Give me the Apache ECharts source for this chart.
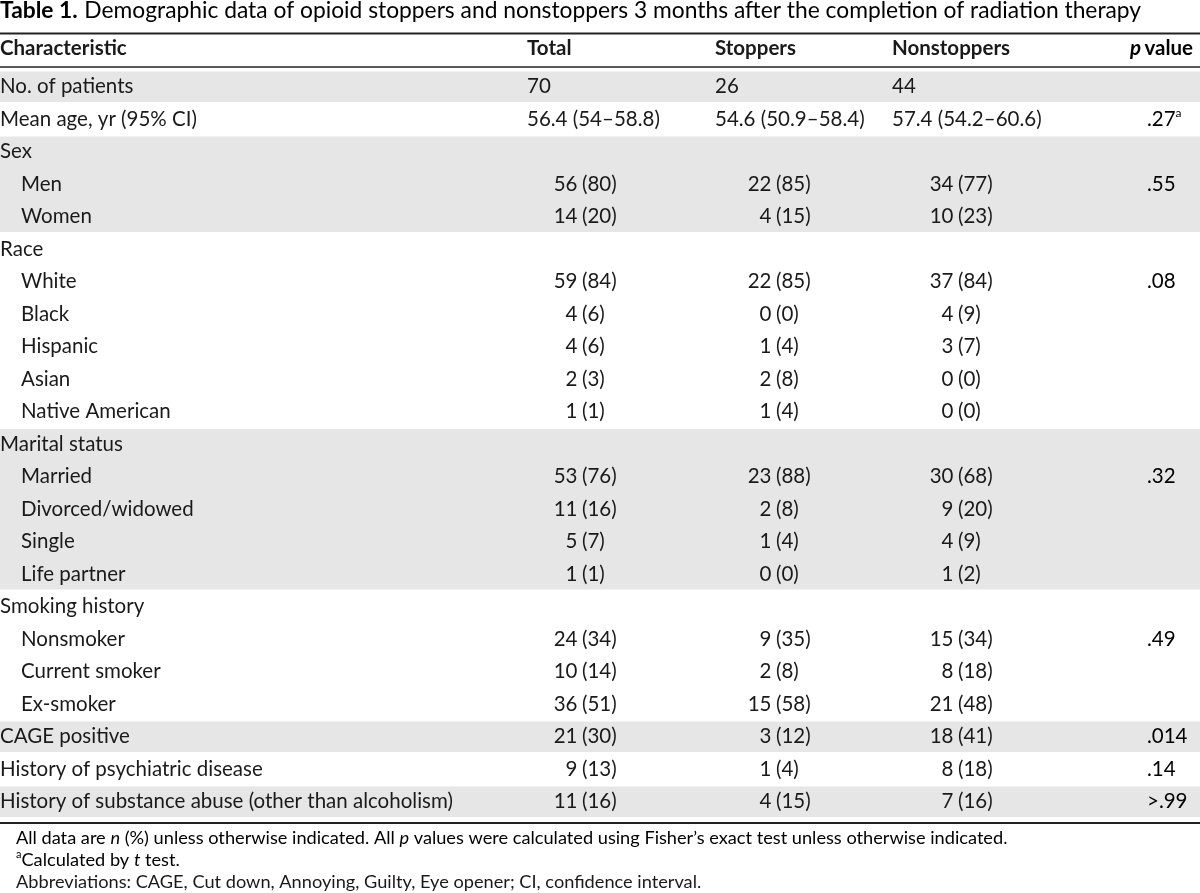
<!DOCTYPE html>
<html><head><meta charset="utf-8">
<script src="https://cdn.jsdelivr.net/npm/echarts@6/dist/echarts.min.js"></script>
<style>html,body{margin:0;padding:0;background:#fff}#main{width:1200px;height:893px}</style>
</head><body><div id="main"></div>
<script>
// ---------------- data ----------------
const characteristics = [
  'No. of patients', 'Mean age, yr (95% CI)', 'Sex', 'Men', 'Women', 'Race', 'White', 'Black',
  'Hispanic', 'Asian', 'Native American', 'Marital status', 'Married', 'Divorced/widowed', 'Single',
  'Life partner', 'Smoking history', 'Nonsmoker', 'Current smoker', 'Ex-smoker', 'CAGE positive',
  'History of psychiatric disease', 'History of substance abuse (other than alcoholism)'
];
const levels = [0,0,0,1,1,0,1,1,1,1,1,0,1,1,1,1,0,1,1,1,0,0,0];
const totalN        = [70,null,null,56,14,null,59,4,4,2,1,null,53,11,5,1,null,24,10,36,21,9,11];
const totalPct      = [null,null,null,80,20,null,84,6,6,3,1,null,76,16,7,1,null,34,14,51,30,13,16];
const stoppersN     = [26,null,null,22,4,null,22,0,1,2,1,null,23,2,1,0,null,9,2,15,3,1,4];
const stoppersPct   = [null,null,null,85,15,null,85,0,4,8,4,null,88,8,4,0,null,35,8,58,12,4,15];
const nonstoppersN  = [44,null,null,34,10,null,37,4,3,0,0,null,30,9,4,1,null,15,8,21,18,8,7];
const nonstoppersPct= [null,null,null,77,23,null,84,9,7,0,0,null,68,20,9,2,null,34,18,48,41,18,16];
const meanAgeTotal       = [56.4, 54, 58.8];
const meanAgeStoppers    = [54.6, 50.9, 58.4];
const meanAgeNonstoppers = [57.4, 54.2, 60.6];
const meanAgeRow = 1;
const pValues = ['', '.27', '', '.55', '', '', '.08', '', '', '', '', '', '.32', '', '', '', '', '.49', '', '', '.014', '.14', '>.99'];
const pNotes  = ['', 'a', '', '', '', '', '', '', '', '', '', '', '', '', '', '', '', '', '', '', '', '', ''];
const headers = ['Characteristic', 'Total', 'Stoppers', 'Nonstoppers', 'p value'];
const titleLead = 'Table 1.';
const titleText = 'Demographic data of opioid stoppers and nonstoppers 3 months after the completion of radiation therapy';

// ---------------- layout / style ----------------
const FONT = 'Lato, "Open Sans", sans-serif';
const INK = '#1a1a1a';
const BAND = '#e6e6e6';
const FS = 20.5;
const FN = 18.2;
const FT = 22.8;
const COL = {
  label: 0, indent: 21,
  total: { left: 527, paren: 582 },
  stop:  { left: 715, paren: 776 },
  non:   { left: 892, paren: 958 },
  p:     { left: 1147 }
};
const GAP = 4.5;

// shading alternates per top-level group
const shaded = [];
(function(){ let g = -1; levels.forEach((lv, i) => { if (lv === 0) g++; shaded[i] = g % 2 === 0; }); })();

const fmt = v => String(v);

function cell(children, coordY, colDef, n, pct, mean) {
  const base = { fill: INK, font: FS + 'px ' + FONT, textVerticalAlign: 'middle' };
  if (mean) {
    children.push({ type: 'text', style: Object.assign({}, base, {
      x: colDef.xLeft, y: coordY, textAlign: 'left',
      text: fmt(mean[0]) + ' (' + fmt(mean[1]) + '\u2013' + fmt(mean[2]) + ')' }) });
    return;
  }
  if (n == null) return;
  if (pct == null) {
    children.push({ type: 'text', style: Object.assign({}, base, { x: colDef.xLeft, y: coordY, textAlign: 'left', text: fmt(n) }) });
    return;
  }
  children.push({ type: 'text', style: Object.assign({}, base, { x: colDef.xParen - GAP, y: coordY, textAlign: 'right', text: fmt(n) }) });
  children.push({ type: 'text', style: Object.assign({}, base, { x: colDef.xParen, y: coordY, textAlign: 'left', text: '(' + fmt(pct) + ')' }) });
}

function renderItem(params, api) {
  const i = api.value(1);
  const c = api.coord([0, i]);
  const cy = c[1];
  const h = api.size([0, 1])[1];
  const xs = v => api.coord([v, i])[0];
  const children = [];
  if (shaded[i]) {
    const x0 = xs(0), x1 = xs(1200);
    const nextShaded = i + 1 < levels.length && shaded[i + 1] && levels[i + 1] === 1;
    children.push({ type: 'rect', shape: { x: x0, y: cy - h / 2 + 1, width: x1 - x0, height: h - 2 + (nextShaded ? 2.5 : 0) }, style: { fill: BAND } });
  }
  children.push({ type: 'text', style: { x: xs(levels[i] ? COL.indent : COL.label), y: cy, text: characteristics[i],
    fill: INK, font: FS + 'px ' + FONT, textVerticalAlign: 'middle', textAlign: 'left' } });
  const isMean = i === meanAgeRow;
  cell(children, cy, { xLeft: xs(COL.total.left), xParen: xs(COL.total.paren) }, totalN[i], totalPct[i], isMean ? meanAgeTotal : null);
  cell(children, cy, { xLeft: xs(COL.stop.left), xParen: xs(COL.stop.paren) }, stoppersN[i], stoppersPct[i], isMean ? meanAgeStoppers : null);
  cell(children, cy, { xLeft: xs(COL.non.left), xParen: xs(COL.non.paren) }, nonstoppersN[i], nonstoppersPct[i], isMean ? meanAgeNonstoppers : null);
  if (pValues[i]) {
    children.push({ type: 'text', style: {
      x: xs(COL.p.left), y: cy, textAlign: 'left', textVerticalAlign: 'middle',
      text: '{v|' + pValues[i] + '}' + (pNotes[i] ? '{s|' + pNotes[i] + '}' : ''),
      rich: {
        v: { fontSize: FS, fontFamily: FONT, color: INK, lineHeight: 24 },
        s: { fontSize: 12, fontFamily: FONT, color: INK, lineHeight: 13, verticalAlign: 'top' }
      } } });
  }
  return { type: 'group', children };
}

const chart = echarts.init(document.getElementById('main'), null, { renderer: 'canvas' });
const gridTop = 70.45, rowH = 32.5;
const gridH = rowH * characteristics.length;

const headerY = 48.5;
const hdrStyle = { fill: INK, font: 'bold ' + FS + 'px ' + FONT, textVerticalAlign: 'middle' };
const graphic = [
  { type: 'text', x: 0, y: 11, style: {
      text: '{b|' + titleLead + '}  {n|' + titleText + '}', textVerticalAlign: 'middle',
      rich: { b: { fontSize: FT, fontWeight: 'bold', fontFamily: FONT, color: INK, lineHeight: 24 },
              n: { fontSize: FT, fontFamily: FONT, color: INK, lineHeight: 24 } } } },
  { type: 'line', shape: { x1: 0, y1: 33.5, x2: 1200, y2: 33.5 }, style: { stroke: '#222', lineWidth: 2 } },
  { type: 'line', shape: { x1: 0, y1: 67, x2: 1200, y2: 67 }, style: { stroke: '#222', lineWidth: 1.5 } },
  { type: 'line', shape: { x1: 0, y1: 823, x2: 1200, y2: 823 }, style: { stroke: '#222', lineWidth: 2 } },
  { type: 'text', x: COL.label, y: headerY, style: Object.assign({}, hdrStyle, { text: headers[0], textAlign: 'left' }) },
  { type: 'text', x: COL.total.left, y: headerY, style: Object.assign({}, hdrStyle, { text: headers[1], textAlign: 'left' }) },
  { type: 'text', x: COL.stop.left, y: headerY, style: Object.assign({}, hdrStyle, { text: headers[2], textAlign: 'left' }) },
  { type: 'text', x: COL.non.left, y: headerY, style: Object.assign({}, hdrStyle, { text: headers[3], textAlign: 'left' }) },
  { type: 'text', x: 1193, y: headerY, style: {
      text: '{i|p} {b|value}', textAlign: 'right', textVerticalAlign: 'middle',
      rich: { i: { fontSize: FS, fontStyle: 'italic', fontWeight: 'bold', fontFamily: FONT, color: INK },
              b: { fontSize: FS, fontWeight: 'bold', fontFamily: FONT, color: INK } } } },
  { type: 'text', x: 16, y: 838, style: { textVerticalAlign: 'middle',
      text: '{r|All data are }{i|n}{r| (%) unless otherwise indicated. All }{i|p}{r| values were calculated using Fisher\u2019s exact test unless otherwise indicated.}',
      rich: { r: { fontSize: FN, fontFamily: FONT, color: INK }, i: { fontSize: FN, fontStyle: 'italic', fontFamily: FONT, color: INK } } } },
  { type: 'text', x: 16, y: 860, style: { textVerticalAlign: 'middle',
      text: '{s|a}{r|Calculated by }{i|t}{r| test.}',
      rich: { r: { fontSize: FN, fontFamily: FONT, color: INK, lineHeight: 22 }, i: { fontSize: FN, fontStyle: 'italic', fontFamily: FONT, color: INK, lineHeight: 22 },
              s: { fontSize: 11, fontFamily: FONT, color: INK, lineHeight: 11, verticalAlign: 'top' } } } },
  { type: 'text', x: 16, y: 882, style: { textVerticalAlign: 'middle',
      text: 'Abbreviations: CAGE, Cut down, Annoying, Guilty, Eye opener; CI, confidence interval.',
      fill: INK, font: FN + 'px ' + FONT } }
];

chart.setOption({
  animation: false,
  backgroundColor: '#ffffff',
  grid: { left: 0, right: 0, top: gridTop, height: gridH },
  xAxis: { type: 'value', min: 0, max: 1200, show: false },
  yAxis: { type: 'category', inverse: true, data: characteristics.map((_, i) => i), show: false },
  series: [{
    type: 'custom',
    renderItem,
    encode: { x: 0, y: 1 },
    data: characteristics.map((_, i) => [0, i]),
    clip: false
  }],
  graphic
});
</script>
</body></html>
